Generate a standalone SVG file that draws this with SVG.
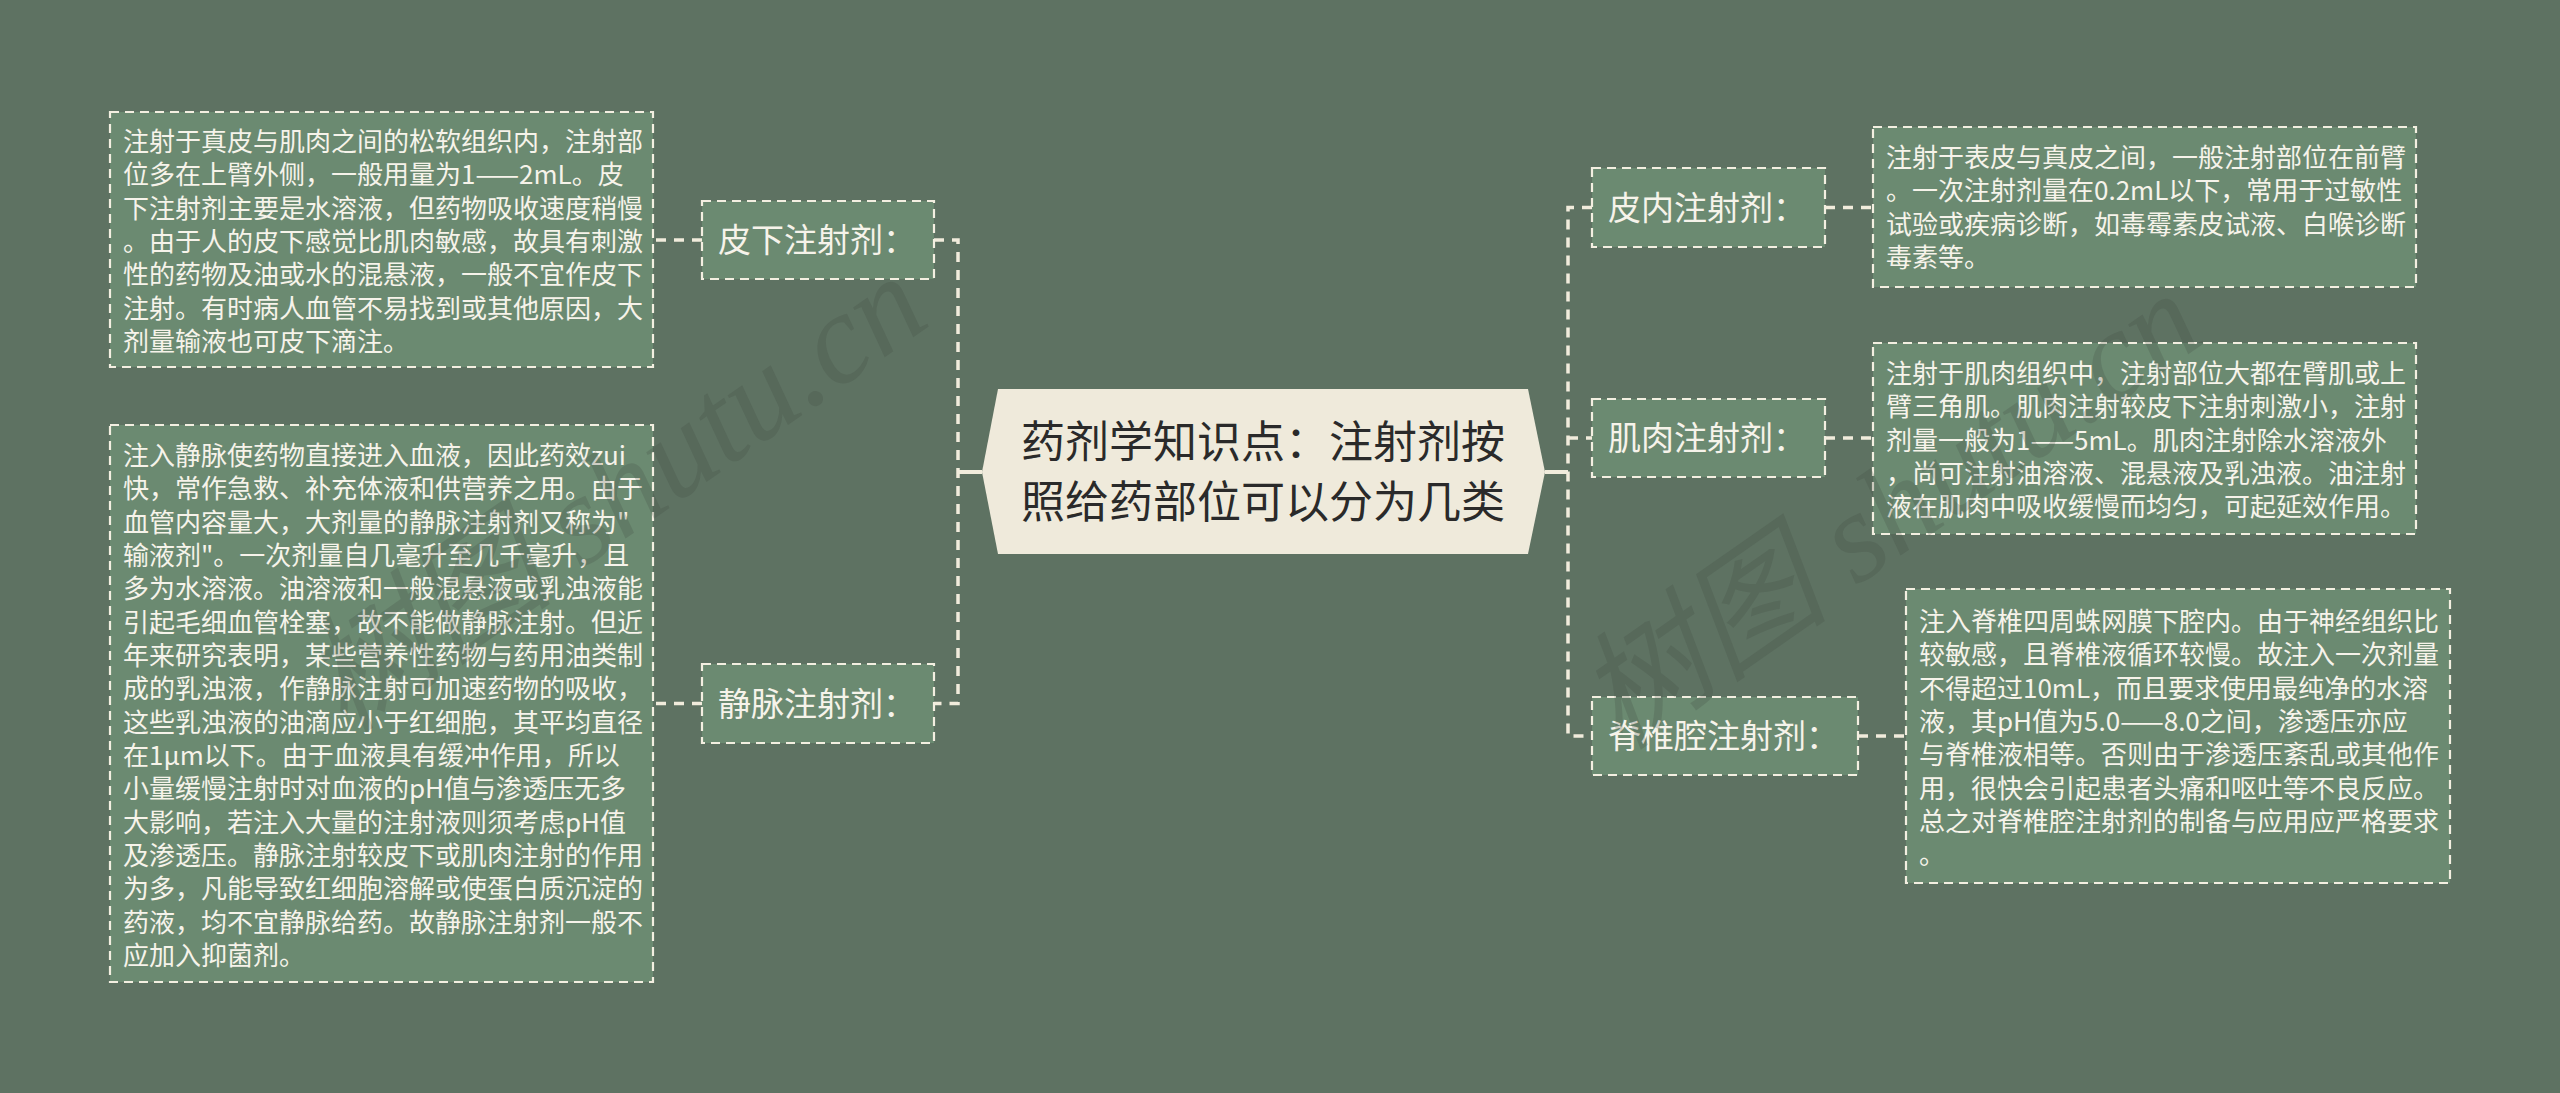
<svg xmlns="http://www.w3.org/2000/svg" width="2560" height="1093" viewBox="0 0 2560 1093">
<defs>
<style>
.bg{fill:#5e7262}
.box{fill:#6b8a71;stroke:#f3efe1;stroke-width:2.2;stroke-dasharray:9 6}
.desc{font-family:"Noto Sans CJK SC","Noto Sans",sans-serif;font-size:26px;fill:#f6f3ea}
.lbl{font-family:"Noto Sans CJK SC","Noto Sans",sans-serif;font-size:33px;fill:#f6f3ea}
.root{fill:#efeadb}
.rtxt{font-family:"Noto Sans CJK SC","Noto Sans",sans-serif;font-size:44px;fill:#2a2a2a}
.dash{fill:none;stroke:#f1ecdc;stroke-width:3.5;stroke-dasharray:10 8}
.solid{fill:none;stroke:#f1ecdc;stroke-width:4}
.wm{font-family:"Liberation Serif","Noto Sans CJK SC",serif;font-style:italic;font-size:128px;fill:#3e4a40;fill-opacity:0.22}
</style>
</defs>
<rect class="bg" x="0" y="0" width="2560" height="1093"/>

<g id="connectors">
<path class="solid" d="M958 472 L982 472"/>
<path class="dash" d="M934 240 L958 240 L958 703.5 L934 703.5"/>
<path class="solid" d="M1545 472 L1568 472"/>
<path class="dash" d="M1592 207.5 L1568 207.5 L1568 736 L1592 736"/>
<path class="dash" d="M1568 438 L1592 438"/>
<path class="dash" d="M702 240 L653 240"/>
<path class="dash" d="M702 703.5 L653 703.5"/>
<path class="dash" d="M1825 207.5 L1873 207.5"/>
<path class="dash" d="M1825 438 L1873 438"/>
<path class="dash" d="M1858 736 L1906 736"/>
</g>

<g id="root">
<polygon class="root" points="998,389 1528,389 1545,472 1528,554 998,554 982,472"/>
<text class="rtxt" x="1263" y="458" text-anchor="middle">药剂学知识点：注射剂按</text>
<text class="rtxt" x="1263" y="518" text-anchor="middle">照给药部位可以分为几类</text>
</g>

<g id="node-pixia">
<rect class="box" x="702" y="201" width="232" height="78"/>
<text class="lbl" x="718" y="252">皮下注射剂：</text>
</g>
<g id="desc-pixia">
<rect class="box" x="110" y="112" width="543" height="255"/>
<text class="desc" x="123" y="151">
<tspan x="123" dy="0">注射于真皮与肌肉之间的松软组织内，注射部</tspan>
<tspan x="123" dy="33.33">位多在上臂外侧，一般用量为1——2mL。皮</tspan>
<tspan x="123" dy="33.33">下注射剂主要是水溶液，但药物吸收速度稍慢</tspan>
<tspan x="123" dy="33.33">。由于人的皮下感觉比肌肉敏感，故具有刺激</tspan>
<tspan x="123" dy="33.33">性的药物及油或水的混悬液，一般不宜作皮下</tspan>
<tspan x="123" dy="33.33">注射。有时病人血管不易找到或其他原因，大</tspan>
<tspan x="123" dy="33.33">剂量输液也可皮下滴注。</tspan>
</text>
</g>

<g id="node-jingmai">
<rect class="box" x="702" y="664" width="232" height="79"/>
<text class="lbl" x="718" y="716">静脉注射剂：</text>
</g>
<g id="desc-jingmai">
<rect class="box" x="110" y="425" width="543" height="557"/>
<text class="desc" x="123" y="465">
<tspan x="123" dy="0">注入静脉使药物直接进入血液，因此药效zui</tspan>
<tspan x="123" dy="33.33">快，常作急救、补充体液和供营养之用。由于</tspan>
<tspan x="123" dy="33.33">血管内容量大，大剂量的静脉注射剂又称为"</tspan>
<tspan x="123" dy="33.33">输液剂"。一次剂量自几毫升至几千毫升，且</tspan>
<tspan x="123" dy="33.33">多为水溶液。油溶液和一般混悬液或乳浊液能</tspan>
<tspan x="123" dy="33.33">引起毛细血管栓塞，故不能做静脉注射。但近</tspan>
<tspan x="123" dy="33.33">年来研究表明，某些营养性药物与药用油类制</tspan>
<tspan x="123" dy="33.33">成的乳浊液，作静脉注射可加速药物的吸收，</tspan>
<tspan x="123" dy="33.33">这些乳浊液的油滴应小于红细胞，其平均直径</tspan>
<tspan x="123" dy="33.33">在1μm以下。由于血液具有缓冲作用，所以</tspan>
<tspan x="123" dy="33.33">小量缓慢注射时对血液的pH值与渗透压无多</tspan>
<tspan x="123" dy="33.33">大影响，若注入大量的注射液则须考虑pH值</tspan>
<tspan x="123" dy="33.33">及渗透压。静脉注射较皮下或肌肉注射的作用</tspan>
<tspan x="123" dy="33.33">为多，凡能导致红细胞溶解或使蛋白质沉淀的</tspan>
<tspan x="123" dy="33.33">药液，均不宜静脉给药。故静脉注射剂一般不</tspan>
<tspan x="123" dy="33.33">应加入抑菌剂。</tspan>
</text>
</g>

<g id="node-pinei">
<rect class="box" x="1592" y="168" width="233" height="79"/>
<text class="lbl" x="1608" y="220">皮内注射剂：</text>
</g>
<g id="desc-pinei">
<rect class="box" x="1873" y="127" width="543" height="160"/>
<text class="desc" x="1886" y="167">
<tspan x="1886" dy="0">注射于表皮与真皮之间，一般注射部位在前臂</tspan>
<tspan x="1886" dy="33.33">。一次注射剂量在0.2mL以下，常用于过敏性</tspan>
<tspan x="1886" dy="33.33">试验或疾病诊断，如毒霉素皮试液、白喉诊断</tspan>
<tspan x="1886" dy="33.33">毒素等。</tspan>
</text>
</g>

<g id="node-jirou">
<rect class="box" x="1592" y="399" width="233" height="78"/>
<text class="lbl" x="1608" y="450">肌肉注射剂：</text>
</g>
<g id="desc-jirou">
<rect class="box" x="1873" y="343" width="543" height="191"/>
<text class="desc" x="1886" y="383">
<tspan x="1886" dy="0">注射于肌肉组织中，注射部位大都在臂肌或上</tspan>
<tspan x="1886" dy="33.33">臂三角肌。肌肉注射较皮下注射刺激小，注射</tspan>
<tspan x="1886" dy="33.33">剂量一般为1——5mL。肌肉注射除水溶液外</tspan>
<tspan x="1886" dy="33.33">，尚可注射油溶液、混悬液及乳浊液。油注射</tspan>
<tspan x="1886" dy="33.33">液在肌肉中吸收缓慢而均匀，可起延效作用。</tspan>
</text>
</g>

<g id="node-jizhui">
<rect class="box" x="1592" y="697" width="266" height="78"/>
<text class="lbl" x="1608" y="748">脊椎腔注射剂：</text>
</g>
<g id="desc-jizhui">
<rect class="box" x="1906" y="589" width="544" height="294"/>
<text class="desc" x="1919" y="631">
<tspan x="1919" dy="0">注入脊椎四周蛛网膜下腔内。由于神经组织比</tspan>
<tspan x="1919" dy="33.33">较敏感，且脊椎液循环较慢。故注入一次剂量</tspan>
<tspan x="1919" dy="33.33">不得超过10mL，而且要求使用最纯净的水溶</tspan>
<tspan x="1919" dy="33.33">液，其pH值为5.0——8.0之间，渗透压亦应</tspan>
<tspan x="1919" dy="33.33">与脊椎液相等。否则由于渗透压紊乱或其他作</tspan>
<tspan x="1919" dy="33.33">用，很快会引起患者头痛和呕吐等不良反应。</tspan>
<tspan x="1919" dy="33.33">总之对脊椎腔注射剂的制备与应用应严格要求</tspan>
<tspan x="1919" dy="33.33">。</tspan>
</text>
</g>

<g id="watermarks">
<text class="wm" transform="translate(345,735) rotate(-35)">树图 shutu.cn</text>
<text class="wm" transform="translate(1620,752) rotate(-35)">树图 shutu.cn</text>
</g>
</svg>
